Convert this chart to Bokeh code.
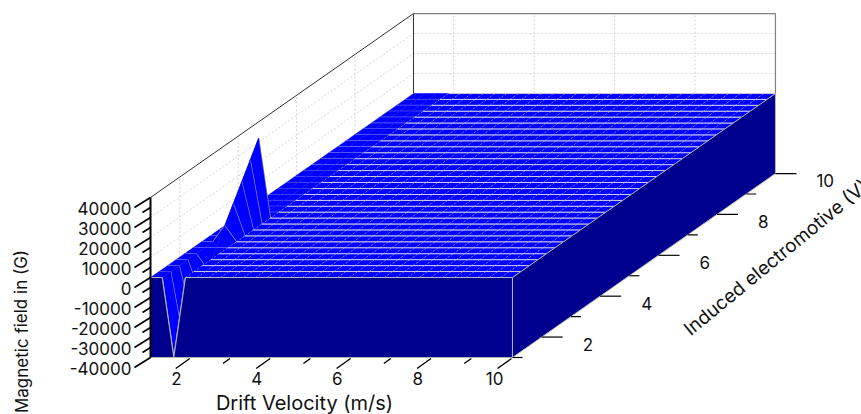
from bokeh.plotting import figure
from bokeh.models import Range1d
from bokeh.core.properties import value
from bokeh.embed import file_html
from bokeh.resources import INLINE

# --- data -----------------------------------------------------------------
drift_velocity = [1.00, 1.29, 1.58, 1.87, 2.16, 2.45, 2.74, 3.03, 3.32, 3.61, 3.90,
                  4.19, 4.48, 4.77, 5.06, 5.35, 5.65, 5.94, 6.23, 6.52, 6.81, 7.10,
                  7.39, 7.68, 7.97, 8.26, 8.55, 8.84, 9.13, 9.42, 9.71, 10.00]
induced_emf = [1.00, 1.29, 1.58, 1.87, 2.16, 2.45, 2.74, 3.03, 3.32, 3.61, 3.90,
               4.19, 4.48, 4.77, 5.06, 5.35, 5.65, 5.94, 6.23, 6.52, 6.81, 7.10,
               7.39, 7.68, 7.97, 8.26, 8.55, 8.84, 9.13, 9.42, 9.71, 10.00]
# field along the one non-zero column (third velocity sample), first eleven emf rows
spike_field = [-40000, -32000, -24000, -16000, -8000, 0, 8000, 16000, 24000, 32000, 40000]
spike_index = 2

x_major = [2, 4, 6, 8, 10]
x_minor = [1, 3, 5, 7, 9]
y_major = [2, 4, 6, 8, 10]
y_minor = [1, 3, 5, 7, 9]
z_major = [-40000, -30000, -20000, -10000, 0, 10000, 20000, 30000, 40000]
z_minor = [-35000, -25000, -15000, -5000, 5000, 15000, 25000, 35000]
z_grid_values = [10000, 20000, 30000]
x_grid_values = [2, 4, 6, 8]
y_grid_values = [2, 4, 6, 8]

x_title = "Drift Velocity (m/s)"
y_title = "Induced electromotive (V)"
z_title = "Magnetic field in (G)"

# --- style ------------------------------------------------------------------
BLUE = "#0000FF"
NAVY = "#00008E"
EDGE = "#B4B4B4"
ROW = "#CCCCE4"
FONT = value("Inter")


def field(i, j):
    if i == spike_index and j < len(spike_field):
        return spike_field[j]
    return 0


def proj(x, y, z):
    return (150 + (x - 1) * 40.22 + (y - 1) * 29.22,
            357 - (y - 1) * 20.44 - (z + 40000) * 0.002)


nx, ny = len(drift_velocity), len(induced_emf)
P = [[proj(drift_velocity[i], induced_emf[j], field(i, j)) for j in range(ny)] for i in range(nx)]

p = figure(width=861, height=414, x_range=Range1d(0, 861), y_range=Range1d(414, 0),
           output_backend="svg", toolbar_location=None, min_border=0,
           outline_line_color=None, background_fill_color="white", border_fill_color="white")
p.axis.visible = False
p.grid.visible = False


def seg(pairs, **kw):
    if pairs:
        p.segment([a[0] for a, b in pairs], [a[1] for a, b in pairs],
                  [b[0] for a, b in pairs], [b[1] for a, b in pairs], **kw)


# walls: gridlines
grid_kw = dict(line_color="#D4D4D4", line_width=1, line_dash="2 2")
g = []
for z in z_grid_values:
    g.append((proj(1, 1, z), proj(1, 10, z)))
    g.append((proj(1, 10, z), proj(10, 10, z)))
for x in x_grid_values:
    g.append((proj(x, 10, 0), proj(x, 10, 40000)))
for y in y_grid_values:
    g.append((proj(1, y, 0), proj(1, y, 40000)))
seg(g, **grid_kw)

# wall outlines
seg([(proj(1, 1, 40000), proj(1, 10, 40000)), (proj(1, 10, 0), proj(1, 10, 40000))],
    line_color="#303030", line_width=1)
seg([(proj(1, 10, 40000), proj(10, 10, 40000)), (proj(10, 10, 0), proj(10, 10, 40000))],
    line_color="#808080", line_width=1.2)


def row_line(j):
    flat, slope = [], []
    for i in range(nx - 1):
        # rising flank of the positive ridge is turned away from the viewer
        if field(i + 1, j) > field(i, j) and field(i + 1, j) > 8000:
            continue
        if field(i, j) == field(i + 1, j):
            flat.append((P[i][j], P[i + 1][j]))
        else:
            slope.append((P[i][j], P[i + 1][j]))
    seg(flat, line_color=ROW, line_width=1)
    seg(slope, line_color=EDGE, line_width=1.4)


row_line(ny - 1)
for j in range(ny - 2, -1, -1):
    xs, ys = [], []
    for i in range(nx - 1):
        q = [P[i][j], P[i + 1][j], P[i + 1][j + 1], P[i][j + 1]]
        xs.append([c[0] for c in q])
        ys.append([c[1] for c in q])
    p.patches(xs, ys, fill_color=BLUE, line_color=BLUE, line_width=0.4)
    row_line(j)

# lines on the flat part of the surface, on top of the fills
seg([(P[i][j], P[i][j + 1]) for i in range(spike_index + 1, nx) for j in range(ny - 1)],
    line_color="#B0B0FF", line_width=0.6, line_dash="2 2")
seg([(P[i][j], P[i + 1][j]) for i in range(spike_index + 1, nx - 1) for j in range(ny)],
    line_color=ROW, line_width=1)

# front skirt (with the notch of the negative spike) and right skirt
front = [P[i][0] for i in range(nx)] + [proj(10, 1, -40000), proj(1, 1, -40000)]
p.patch([c[0] for c in front], [c[1] for c in front], fill_color=NAVY,
        line_color=EDGE, line_width=1)
right = [P[nx - 1][j] for j in range(ny)] + [proj(10, 10, -40000), proj(10, 1, -40000)]
p.patch([c[0] for c in right], [c[1] for c in right], fill_color=NAVY,
        line_color=EDGE, line_width=1)

# axes drawn from the projection
TICK = dict(line_color="#000000")
seg([(proj(1, 1, -40000), proj(1, 1, 40000))], line_color="#000000", line_width=2)
seg([((lambda a: (a, (a[0] - 16, a[1] + 10)))(proj(1, 1, z))) for z in z_major], line_width=1.6, **TICK)
seg([((lambda a: (a, (a[0] - 8, a[1] + 5)))(proj(1, 1, z))) for z in z_minor], line_width=1.6, **TICK)
seg([((lambda a: ((a[0] - 1, a[1] + 1), (a[0] - 15, a[1] + 11)))(proj(x, 1, -40000))) for x in x_major],
    line_width=1.4, **TICK)
seg([((lambda a: ((a[0] - 1, a[1] + 1), (a[0] - 8, a[1] + 6)))(proj(x, 1, -40000))) for x in x_minor[1:]],
    line_width=1.4, **TICK)
seg([((lambda a: (a, (a[0] + 21, a[1])))(proj(10, y, -40000))) for y in y_major], line_width=1.2, **TICK)
seg([((lambda a: (a, (a[0] + 10, a[1])))(proj(10, y, -40000))) for y in y_minor], line_width=1.2, **TICK)

# texts
txt = dict(text_font=FONT, text_color="#111111")
zp = [proj(1, 1, z) for z in z_major]
p.text([c[0] - 19 for c in zp], [c[1] + 11 for c in zp], text=[str(z) for z in z_major],
       text_align="right", text_baseline="middle", text_font_size=value("17px"), **txt)
xp = [proj(x, 1, -40000) for x in x_major]
p.text([c[0] - 9 for c in xp], [c[1] + 21 for c in xp], text=[str(x) for x in x_major],
       text_align="right", text_baseline="middle", text_font_size=value("17px"), **txt)
yp = [proj(10, y, -40000) for y in y_major]
p.text([c[0] + 41 for c in yp], [c[1] + 7 for c in yp], text=[str(y) for y in y_major],
       text_align="left", text_baseline="middle", text_font_size=value("17px"), **txt)
p.text([304], [402], text=[x_title], text_align="center", text_baseline="middle",
       text_font_size=value("20px"), **txt)
p.text([21], [331], text=[z_title], text_align="center", text_baseline="middle", angle=1.5708,
       text_font_size=value("17px"), **txt)
p.text([686], [331], text=[y_title], text_align="left", text_baseline="alphabetic", angle=0.69,
       text_font_size=value("19px"), **txt)

open("out.html", "w").write(file_html(p, INLINE))
